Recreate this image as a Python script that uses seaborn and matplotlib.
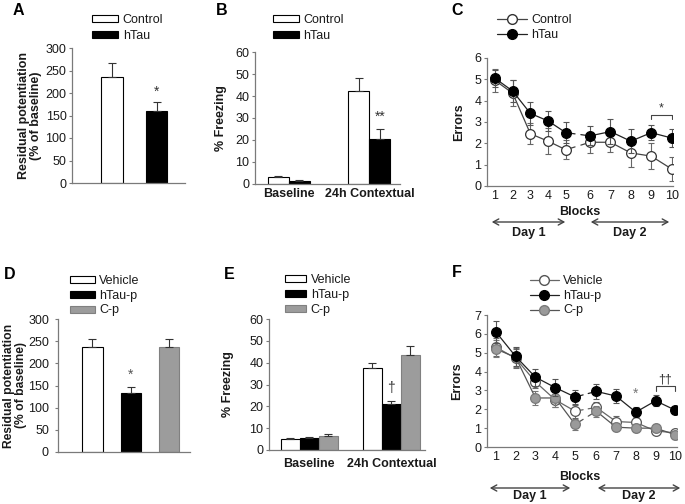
import numpy as np
import pandas as pd
import matplotlib
matplotlib.use("Agg")
import matplotlib.pyplot as plt
import seaborn as sns
from matplotlib.patches import Patch
from matplotlib.lines import Line2D

sns.set_theme(style="white")
plt.rcParams['font.family'] = ['Liberation Sans', 'DejaVu Sans']

# ---------------- data ----------------
# Panel A
a_groups = ["Control", "hTau"]
a_values = [236, 160]
a_errors = [30, 21]
# Panel B
b_conditions = ["Baseline", "24h Contextual"]
b_groups = ["Control", "hTau"]
b_control = [3.0, 42.5]
b_control_err = [0.8, 5.5]
b_htau = [1.5, 20.5]
b_htau_err = [0.5, 4.5]
# Panel C
blocks = [1, 2, 3, 4, 5, 6, 7, 8, 9, 10]
c_control = [4.95, 4.35, 2.45, 2.1, 1.7, 2.05, 2.05, 1.55, 1.4, 0.8]
c_control_err = [0.55, 0.6, 0.5, 0.6, 0.45, 0.5, 0.45, 0.65, 0.6, 0.55]
c_htau = [5.05, 4.45, 3.4, 3.05, 2.5, 2.35, 2.55, 2.1, 2.5, 2.25]
c_htau_err = [0.4, 0.5, 0.55, 0.45, 0.5, 0.45, 0.6, 0.55, 0.35, 0.42]
# Panel D
d_groups = ["Vehicle", "hTau-p", "C-p"]
d_values = [237, 132, 237]
d_errors = [17, 15, 18]
# Panel E
e_conditions = ["Baseline", "24h Contextual"]
e_vehicle = [5.0, 37.5]
e_vehicle_err = [0.7, 2.5]
e_htau = [5.3, 21.0]
e_htau_err = [0.7, 1.5]
e_cp = [6.3, 43.5]
e_cp_err = [1.2, 4.3]
# Panel F
f_vehicle = [5.3, 4.7, 3.45, 2.5, 1.9, 2.1, 1.35, 1.3, 0.85, 0.75]
f_vehicle_err = [0.5, 0.5, 0.3, 0.4, 0.35, 0.3, 0.3, 0.2, 0.15, 0.15]
f_htau = [6.1, 4.8, 3.7, 3.15, 2.65, 2.95, 2.7, 1.85, 2.45, 1.95]
f_htau_err = [0.6, 0.5, 0.45, 0.45, 0.35, 0.4, 0.35, 0.25, 0.3, 0.1]
f_cp = [5.2, 4.75, 2.6, 2.6, 1.2, 1.9, 1.05, 1.0, 1.0, 0.65]
f_cp_err = [0.45, 0.5, 0.35, 0.5, 0.3, 0.3, 0.2, 0.2, 0.2, 0.2]

W, H = 685, 504
fig = plt.figure(figsize=(W / 100, H / 100), dpi=100)

def px_axes(l, t, r, b):
    return fig.add_axes([l / W, 1 - b / H, (r - l) / W, (b - t) / H])

def fx(x):
    return x / W

def fy(y):
    return 1 - y / H

SPINE = "#7a7a7a"
TXT = "#1a1a1a"

def style_axes(ax):
    for s in ["top", "right"]:
        ax.spines[s].set_visible(False)
    for s in ["left", "bottom"]:
        ax.spines[s].set_color(SPINE)
        ax.spines[s].set_linewidth(0.9)
    ax.tick_params(axis="y", direction="out", length=2.5, width=0.8, color=SPINE,
                   labelsize=9, labelcolor=TXT, pad=1.5, left=True)
    ax.tick_params(axis="x", length=0, labelsize=9, labelcolor=TXT, pad=3)
    ax.set_xlabel("")
    ax.grid(False)

def panel_letter(x, y, s):
    fig.text(fx(x), fy(y), s, fontsize=11.5, fontweight="bold", ha="left", va="top", color="black")

def add_legend(ax, handles, labels, x, y, handlelength, spacing=0.3):
    leg = ax.legend(handles, labels, loc="upper left",
                    bbox_to_anchor=(fx(x), fy(y)), bbox_transform=fig.transFigure,
                    frameon=False, fontsize=9, borderpad=0, borderaxespad=0,
                    handlelength=handlelength, handleheight=0.5,
                    handletextpad=0.35, labelspacing=spacing)
    for t in leg.get_texts():
        t.set_color(TXT)
    return leg

def ylab(ax, text, xcoord, fs=9):
    ax.set_ylabel(text, fontsize=fs, fontweight="bold", color=TXT, linespacing=1.05)
    ax.yaxis.set_label_coords(xcoord, 0.5)

def bracket(ax, x1, x2, y, drop, text, fs=9):
    ax.plot([x1, x1, x2, x2], [y - drop, y, y, y - drop], color="#444444", lw=0.8)
    ax.text((x1 + x2) / 2, y + drop * 0.2, text, ha="center", va="bottom", fontsize=fs, color="#333333")

# ---------------- Panel A ----------------
axA = px_axes(72, 48, 185, 183)
dfA = pd.DataFrame({"group": a_groups, "value": a_values})
sns.barplot(data=dfA, x="group", y="value", hue="group", order=a_groups, hue_order=a_groups,
            palette=["white", "black"], edgecolor="black", linewidth=0.8, width=0.49,
            legend=False, ax=axA, errorbar=None)
axA.errorbar(np.arange(len(a_values)), a_values, yerr=[np.zeros(len(a_errors)), a_errors],
             fmt="none", ecolor="#333333", elinewidth=0.8, capsize=3, capthick=0.8)
axA.set_ylim(0, 300)
axA.set_yticks(range(0, 301, 50))
axA.set_xlim(-0.9, 1.64)
axA.set_xticks([])
style_axes(axA)
ylab(axA, "Residual potentiation\n(% of baseline)", -0.265)
axA.text(1, a_values[1] + a_errors[1] + 6, "*", ha="center", va="bottom", fontsize=10, color="#333333")
add_legend(axA, [Patch(facecolor="white", edgecolor="black", lw=0.8),
                 Patch(facecolor="black", edgecolor="black", lw=0.8)],
           a_groups, 92, 14, 2.1)
panel_letter(13, 3, "A")

# ---------------- Panel B ----------------
axB = px_axes(255, 52, 400, 184)
dfB = pd.DataFrame({
    "cond": b_conditions * 2,
    "group": [b_groups[0]] * 2 + [b_groups[1]] * 2,
    "value": b_control + b_htau,
})
wB = 0.52
sns.barplot(data=dfB, x="cond", y="value", hue="group", order=b_conditions, hue_order=b_groups,
            palette=["white", "black"], edgecolor="black", linewidth=0.8, width=wB,
            legend=False, ax=axB, errorbar=None)
for hi, (vals, errs) in enumerate([(b_control, b_control_err), (b_htau, b_htau_err)]):
    xs = np.arange(len(b_conditions)) + (hi - 0.5) * wB / 2
    axB.errorbar(xs, vals, yerr=[np.zeros(len(errs)), errs], fmt="none", ecolor="#333333",
                 elinewidth=0.8, capsize=3, capthick=0.8)
axB.set_ylim(0, 60)
axB.set_yticks(range(0, 61, 10))
axB.set_xlim(-0.42, 1.38)
style_axes(axB)
axB.set_xticks(range(len(b_conditions)))
axB.set_xticklabels(b_conditions, fontweight="bold", fontsize=9)
ylab(axB, "% Freezing", -0.19)
axB.text(1 + wB / 4, b_htau[1] + b_htau_err[1] + 2.5, "**", ha="center", va="bottom", fontsize=10, color="#333333")
add_legend(axB, [Patch(facecolor="white", edgecolor="black", lw=0.8),
                 Patch(facecolor="black", edgecolor="black", lw=0.8)],
           b_groups, 273, 14, 2.1)
panel_letter(216, 3, "B")

# ---------------- helpers for line panels ----------------
def block_positions(blks, gap, scale2):
    b = np.asarray(blks, dtype=float)
    return np.where(b <= 5, b, 5 + gap + (b - 6) * scale2)

def broken_series(ax, pos, vals, errs, line_color, face, edge, ecolor, z):
    pos = np.asarray(pos)
    vals = np.asarray(vals)
    errs = np.asarray(errs)
    ax.errorbar(pos, vals, yerr=errs, fmt="none", ecolor=ecolor, elinewidth=0.8,
                capsize=2.2, capthick=0.8, zorder=z)
    for sl in [slice(0, 5), slice(5, 10)]:
        d = pd.DataFrame({"x": pos[sl], "y": vals[sl]})
        sns.lineplot(data=d, x="x", y="y", ax=ax, color=line_color, lw=0.9, marker="o",
                     markersize=7, markerfacecolor=face, markeredgecolor=edge,
                     markeredgewidth=0.9, zorder=z + 1, legend=False, sort=False)
    # short stubs of the day-break connector
    x5, x6, y5, y6 = pos[4], pos[5], vals[4], vals[5]
    for f0, f1 in [(0.12, 0.38), (0.62, 0.88)]:
        ax.plot([x5 + f0 * (x6 - x5), x5 + f1 * (x6 - x5)],
                [y5 + f0 * (y6 - y5), y5 + f1 * (y6 - y5)], color=line_color, lw=0.9, zorder=z)

def day_arrows(x1a, x1b, x2a, x2b, y_arrow, y_text, color="#444444"):
    for xa, xb, lab in [(x1a, x1b, "Day 1"), (x2a, x2b, "Day 2")]:
        fig.add_artist(matplotlib.patches.FancyArrowPatch(
            (fx(xa), fy(y_arrow)), (fx(xb), fy(y_arrow)), transform=fig.transFigure,
            arrowstyle="<->,head_length=4,head_width=2.2", color=color, lw=1.0,
            mutation_scale=1))
        fig.text(fx((xa + xb) / 2), fy(y_text), lab, ha="center", va="center",
                 fontsize=9, fontweight="bold", color=TXT)

# ---------------- Panel C ----------------
axC = px_axes(487, 58, 673, 186)
posC = block_positions(blocks, 1.37, 1.15)
broken_series(axC, posC, c_control, c_control_err, "#444444", "white", "#333333", "#666666", 3)
broken_series(axC, posC, c_htau, c_htau_err, "#222222", "black", "black", "#555555", 5)
axC.set_ylim(0, 6)
axC.set_yticks(range(0, 7))
axC.set_xlim(0.55, 11.05)
style_axes(axC)
axC.set_xticks(posC)
axC.set_xticklabels([str(b) for b in blocks])
axC.set_xlabel("")
ylab(axC, "Errors", -0.118)
bracket(axC, posC[8], posC[9], 3.33, 0.2, "*")
fig.text(fx(580), fy(212), "Blocks", ha="center", va="center", fontsize=9, fontweight="bold", color=TXT)
day_arrows(489, 568, 588, 672, 222, 233)
add_legend(axC, [Line2D([], [], color="#444444", lw=0.9, marker="o", markersize=7,
                        markerfacecolor="white", markeredgecolor="#333333"),
                 Line2D([], [], color="#222222", lw=0.9, marker="o", markersize=7,
                        markerfacecolor="black", markeredgecolor="black")],
           ["Control", "hTau"], 497, 14, 2.4, 0.25)
panel_letter(451, 3, "C")

# ---------------- Panel D ----------------
axD = px_axes(58, 319, 190, 452)
dfD = pd.DataFrame({"group": d_groups, "value": d_values})
GRAY = "#9c9c9c"
sns.barplot(data=dfD, x="group", y="value", hue="group", order=d_groups, hue_order=d_groups,
            palette=["white", "black", GRAY], edgecolor="black", linewidth=0.8, width=0.53,
            legend=False, ax=axD, errorbar=None)
axD.patches[2].set_edgecolor("#808080")
axD.errorbar(np.arange(len(d_values)), d_values, yerr=[np.zeros(len(d_errors)), d_errors],
             fmt="none", ecolor="#333333", elinewidth=0.8, capsize=3, capthick=0.8)
axD.set_ylim(0, 300)
axD.set_yticks(range(0, 301, 50))
axD.set_xlim(-0.9, 2.55)
axD.set_xticks([])
style_axes(axD)
axD.tick_params(axis="y", pad=4)
ylab(axD, "Residual potentiation\n(% of baseline)", -0.235, fs=8.7)
axD.text(1, d_values[1] + d_errors[1] + 12, "*", ha="center", va="bottom", fontsize=10, color="#555555")
add_legend(axD, [Patch(facecolor="white", edgecolor="black", lw=0.8),
                 Patch(facecolor="black", edgecolor="black", lw=0.8),
                 Patch(facecolor=GRAY, edgecolor="#808080", lw=0.8)],
           d_groups, 70, 275, 2.0, 0.22)
panel_letter(4, 267, "D")

# ---------------- Panel E ----------------
axE = px_axes(269, 319, 425, 450)
dfE = pd.DataFrame({
    "cond": e_conditions * 3,
    "group": [d_groups[0]] * 2 + [d_groups[1]] * 2 + [d_groups[2]] * 2,
    "value": e_vehicle + e_htau + e_cp,
})
wE = 0.69
sns.barplot(data=dfE, x="cond", y="value", hue="group", order=e_conditions, hue_order=d_groups,
            palette=["white", "black", GRAY], edgecolor="black", linewidth=0.8, width=wE,
            legend=False, ax=axE, errorbar=None)
for p in axE.patches:
    if matplotlib.colors.to_hex(p.get_facecolor()) == GRAY:
        p.set_edgecolor("#808080")
for hi, (vals, errs) in enumerate([(e_vehicle, e_vehicle_err), (e_htau, e_htau_err), (e_cp, e_cp_err)]):
    xs = np.arange(len(e_conditions)) + (hi - 1) * wE / 3
    axE.errorbar(xs, vals, yerr=[np.zeros(len(errs)), errs], fmt="none", ecolor="#333333",
                 elinewidth=0.8, capsize=3, capthick=0.8)
axE.set_ylim(0, 60)
axE.set_yticks(range(0, 61, 10))
axE.set_xlim(-0.49, 1.41)
style_axes(axE)
axE.tick_params(axis="x", pad=6)
axE.set_xticks(range(len(e_conditions)))
axE.set_xticklabels(e_conditions, fontweight="bold", fontsize=9)
ylab(axE, "% Freezing", -0.224)
axE.text(1, e_htau[1] + e_htau_err[1] + 2.5, "\u2020", ha="center", va="bottom", fontsize=10, color="#333333")
add_legend(axE, [Patch(facecolor="white", edgecolor="black", lw=0.8),
                 Patch(facecolor="black", edgecolor="black", lw=0.8),
                 Patch(facecolor=GRAY, edgecolor="#808080", lw=0.8)],
           d_groups, 285, 274, 1.7, 0.22)
panel_letter(224, 267, "E")

# ---------------- Panel F ----------------
axF = px_axes(487, 315, 677, 447)
posF = block_positions(blocks, 1.07, 1.0)
CP_FACE = "#9a9a9a"
broken_series(axF, posF, f_vehicle, f_vehicle_err, "#666666", "white", "#555555", "#666666", 3)
broken_series(axF, posF, f_cp, f_cp_err, "#555555", CP_FACE, "#7a7a7a", "#777777", 4)
broken_series(axF, posF, f_htau, f_htau_err, "#222222", "black", "black", "#555555", 6)
axF.set_ylim(0, 7)
axF.set_yticks(range(0, 8))
axF.set_xlim(0.55, 10.15)
style_axes(axF)
axF.set_xticks(posF)
axF.set_xticklabels([str(b) for b in blocks])
axF.set_xlabel("")
ylab(axF, "Errors", -0.126)
axF.text(posF[7], f_htau[7] + f_htau_err[7] + 0.35, "*", ha="center", va="bottom", fontsize=10, color="#777777")
bracket(axF, posF[8], posF[9], 3.23, 0.25, "\u2020\u2020")
fig.text(fx(580), fy(477), "Blocks", ha="center", va="center", fontsize=9, fontweight="bold", color=TXT)
day_arrows(487, 573, 595, 683, 488, 496)
add_legend(axF, [Line2D([], [], color="#666666", lw=0.9, marker="o", markersize=7,
                        markerfacecolor="white", markeredgecolor="#555555"),
                 Line2D([], [], color="#222222", lw=0.9, marker="o", markersize=7,
                        markerfacecolor="black", markeredgecolor="black"),
                 Line2D([], [], color="#555555", lw=0.9, marker="o", markersize=7,
                        markerfacecolor=CP_FACE, markeredgecolor="#7a7a7a")],
           ["Vehicle", "hTau-p", "C-p"], 530, 275, 2.3, 0.22)
panel_letter(452, 265, "F")

fig.savefig("out.png", dpi=100)
